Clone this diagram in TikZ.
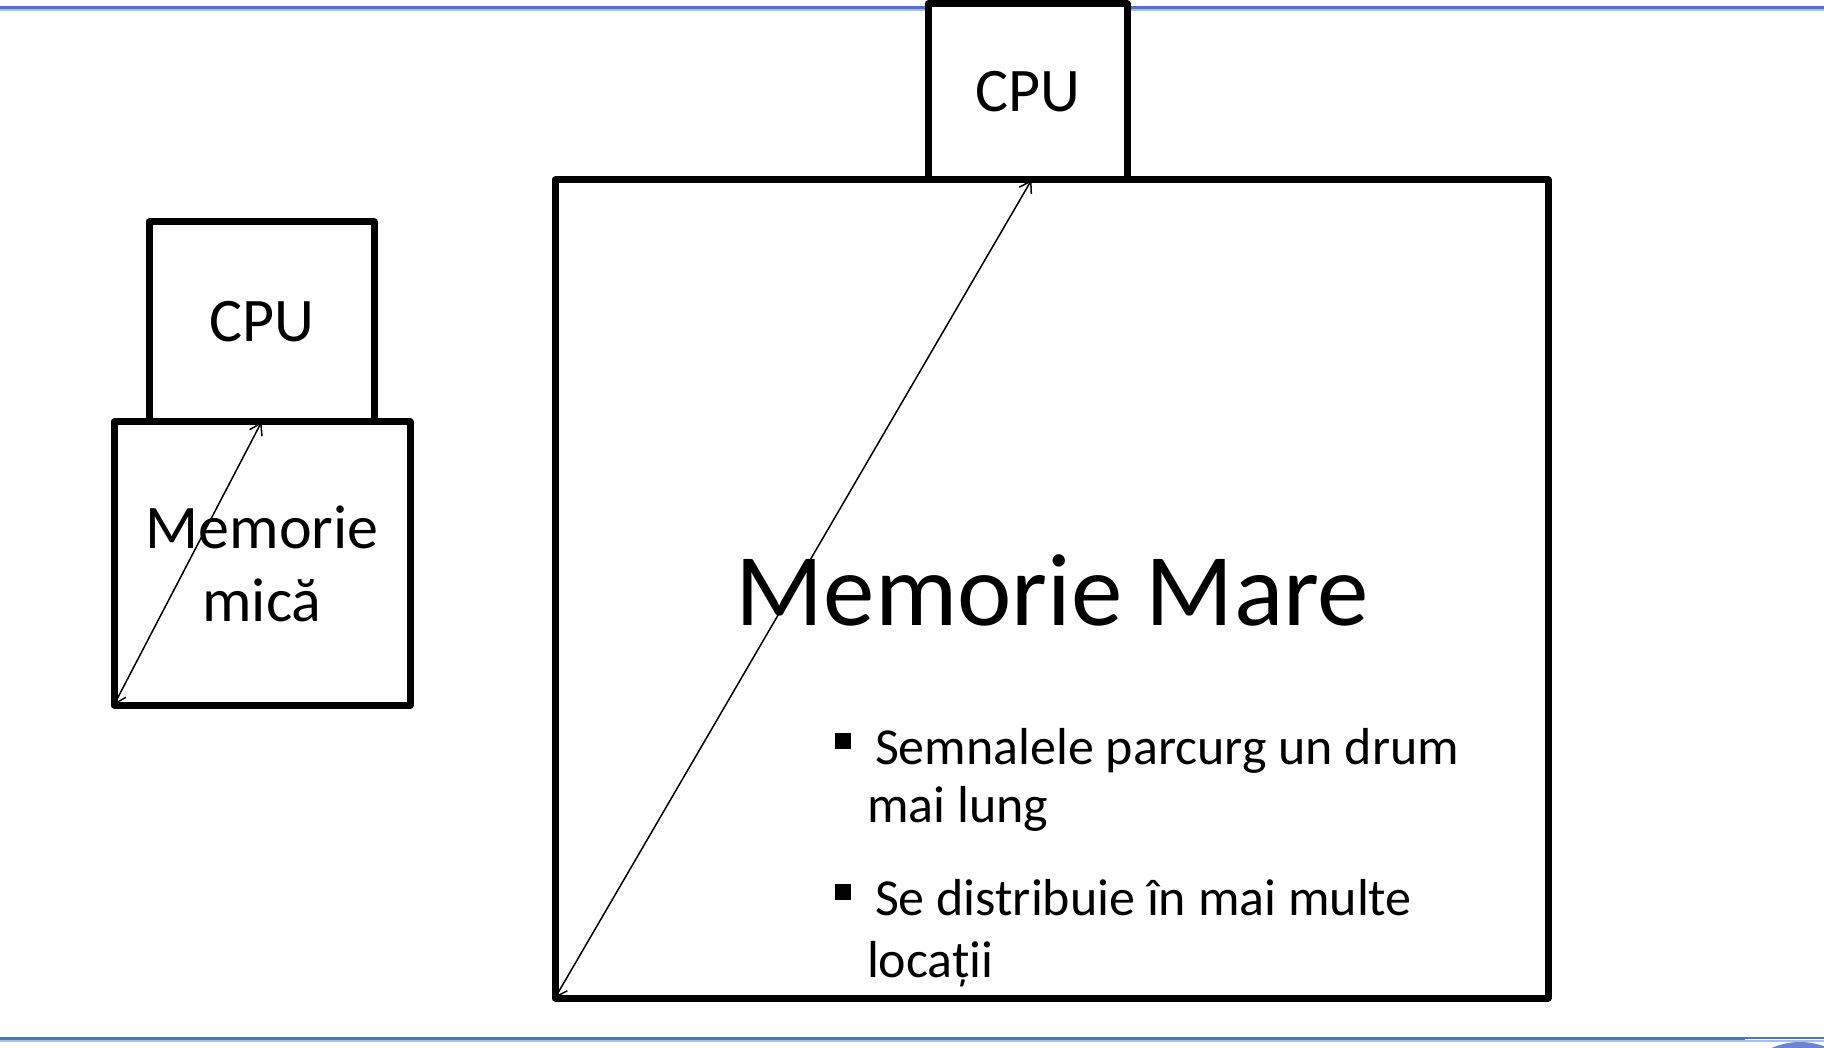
\documentclass[tikz,border=0pt]{standalone}
\usepackage{fontspec}
\setmainfont{Carlito}
\usetikzlibrary{arrows.meta}
\definecolor{slideblue}{RGB}{79,116,192}
\definecolor{slidelight}{RGB}{170,190,228}
\definecolor{circblue}{RGB}{108,135,201}
\tikzset{
  box/.style={draw=black, line width=7pt, fill=white, line join=round, outer sep=0pt, inner sep=0pt},
  link/.style={line width=1.5pt, {Straight Barb[length=11pt,width=14pt]}-{Straight Barb[length=11pt,width=14pt]}},
  boxfont/.style={font=\fontsize{62}{73}\selectfont},
  titlefont/.style={font=\fontsize{103}{110}\selectfont},
  itemfont/.style={font=\fontsize{52}{58}\selectfont},
  txt/.style={inner sep=0pt, outer sep=0pt}
}
\newcommand{\sqbullet}{\raisebox{15pt}{\rule{16pt}{16pt}}\hspace{24pt}}
\begin{document}
\begin{tikzpicture}[x=1pt,y=-1pt]
\useasboundingbox (0,0) rectangle (1824,1048);
\fill[white] (0,0) rectangle (1824,1048);
% slide rules
\draw[slidelight, line width=2pt] (0,10.5) -- (1824,10.5);
\draw[slideblue, line width=3pt] (0,7.5) -- (1824,7.5);
\draw[slidelight, line width=2pt] (0,1041) -- (1824,1041);
\draw[slideblue, line width=3pt] (0,1038) -- (1745,1038);
\draw[slideblue, line width=2.2pt] (1745,1038) -- (1824,1038);
\fill[circblue] (1800,1112) circle (70);
% small memory
\node[box, boxfont, minimum width=296pt, minimum height=283pt, align=center] (smem) at (262,563.5) {Memorie\\mică};
\node[box, boxfont, minimum width=225pt, minimum height=200pt] (scpu) at (261.5,322) {CPU};
% big memory
\node[box, minimum width=993pt, minimum height=818pt] (bmem) at (1051.5,589) {};
\node[box, boxfont, minimum width=199pt, minimum height=176pt] (bcpu) at (1027.5,92) {CPU};
% texts in big memory
\node[txt, titlefont, anchor=base] (title) at (1052.5,625) {Memorie Mare};
\node[txt, itemfont, anchor=base west] (b1a) at (835,764) {\sqbullet Semnalele parcurg un drum};
\node[txt, itemfont, anchor=base west] (b1b) at (867,822) {mai lung};
\node[txt, itemfont, anchor=base west] (b2a) at (835,915) {\sqbullet Se distribuie în mai multe};
\node[txt, itemfont, anchor=base west] (b2b) at (867,977) {locații};
% connectors
\draw[link] (smem.south west) -- (scpu.south);
\draw[link] (bmem.south west) -- ([xshift=4pt]bcpu.south);
\end{tikzpicture}
\end{document}
